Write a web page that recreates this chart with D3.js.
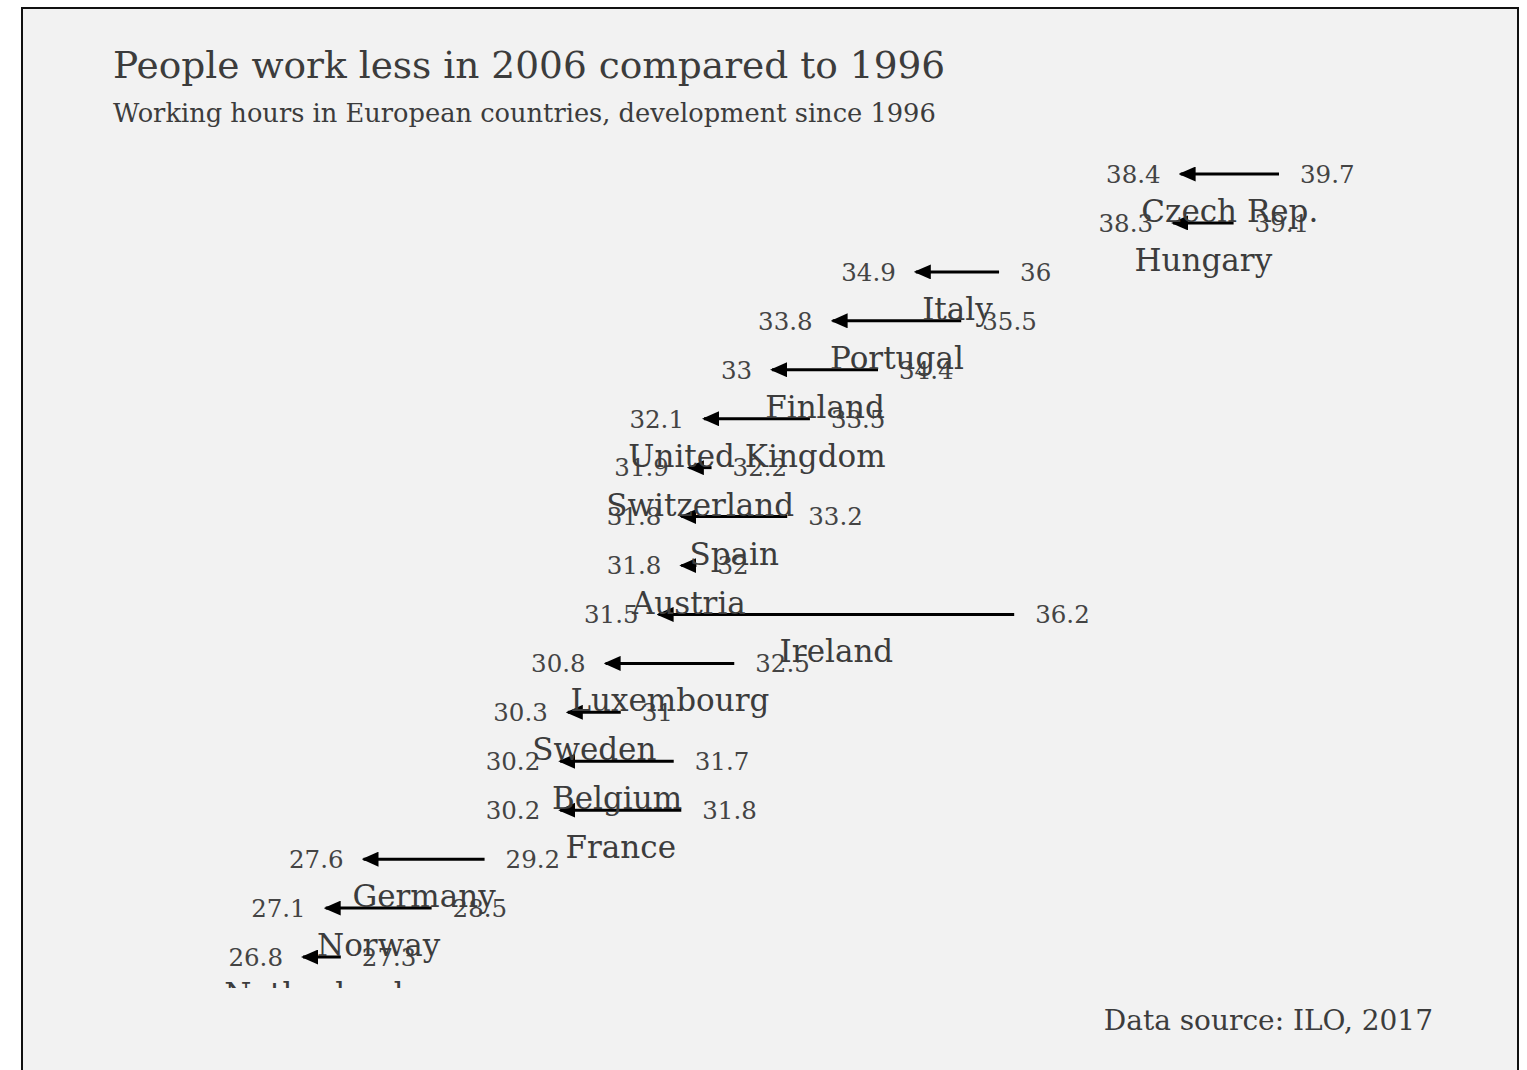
<!DOCTYPE html>
<html>
<head>
<meta charset="utf-8">
<script src="https://cdn.jsdelivr.net/npm/d3@7"></script>
<style>
  body { margin: 0; background: #fff; }
  svg text { font-family: 'DejaVu Serif', serif; }
</style>
</head>
<body>
<div id="chart"></div>
<script>
// working hours per week, 2006 vs 1996
var countries = ['Czech Rep.', 'Hungary', 'Italy', 'Portugal', 'Finland',
  'United Kingdom', 'Switzerland', 'Spain', 'Austria', 'Ireland',
  'Luxembourg', 'Sweden', 'Belgium', 'France', 'Germany', 'Norway',
  'Netherlands'];
var hours1996 = [39.7, 39.1, 36, 35.5, 34.4, 33.5, 32.2, 33.2, 32, 36.2,
  32.5, 31, 31.7, 31.8, 29.2, 28.5, 27.3];
var hours2006 = [38.4, 38.3, 34.9, 33.8, 33, 32.1, 31.9, 31.8, 31.8, 31.5,
  30.8, 30.3, 30.2, 30.2, 27.6, 27.1, 26.8];

var titleText = 'People work less in 2006 compared to 1996';
var subtitleText = 'Working hours in European countries, development since 1996';
var captionText = 'Data source: ILO, 2017';

var W = 1527, H = 1070;
var textColor = '#3c3c3c';

var dataset = [];
for (let i = 0; i < countries.length; ++i) {
  dataset.push({country: countries[i], from: hours1996[i], to: hours2006[i]});
}

var svg = d3.select('#chart').append('svg')
    .attr('width', W)
    .attr('height', H);

// panel
svg.append('rect')
    .attr('x', 22).attr('y', 8)
    .attr('width', 1496).attr('height', 1080)
    .attr('fill', '#f2f2f2')
    .attr('stroke', '#111')
    .attr('stroke-width', 2);

svg.append('defs').append('clipPath')
    .attr('id', 'plot-clip')
  .append('rect')
    .attr('x', 22).attr('y', 140)
    .attr('width', 1496).attr('height', 848);

svg.select('defs').append('marker')
    .attr('id', 'arrow')
    .attr('markerUnits', 'userSpaceOnUse')
    .attr('viewBox', '0 0 17 15')
    .attr('refX', 15).attr('refY', 7.5)
    .attr('markerWidth', 17).attr('markerHeight', 15)
    .attr('orient', 'auto')
  .append('path')
    .attr('d', 'M0,0 L17,7.5 L0,15 Z')
    .attr('fill', '#000');

var xScale = d3.scaleLinear()
    .domain([26.8, 39.7])
    .range([303, 1279]);

var yScale = d3.scalePoint()
    .domain(countries)
    .range([174, 174 + 16 * 48.94]);

var plot = svg.append('g').attr('clip-path', 'url(#plot-clip)');

plot.selectAll('line.seg')
    .data(dataset)
  .enter().append('line')
    .attr('class', 'seg')
    .attr('x1', d => xScale(d.from))
    .attr('x2', d => xScale(d.to))
    .attr('y1', d => yScale(d.country))
    .attr('y2', d => yScale(d.country))
    .attr('stroke', '#000')
    .attr('stroke-width', 3)
    .attr('marker-end', 'url(#arrow)');

plot.selectAll('text.v2006')
    .data(dataset)
  .enter().append('text')
    .attr('class', 'v2006')
    .attr('x', d => xScale(d.to) - 20)
    .attr('y', d => yScale(d.country))
    .attr('dy', '0.36em')
    .attr('text-anchor', 'end')
    .attr('fill', '#444')
    .style('font-size', '24.5px')
    .text(d => d.to);

plot.selectAll('text.v1996')
    .data(dataset)
  .enter().append('text')
    .attr('class', 'v1996')
    .attr('x', d => xScale(d.from) + 21)
    .attr('y', d => yScale(d.country))
    .attr('dy', '0.36em')
    .attr('text-anchor', 'start')
    .attr('fill', '#444')
    .style('font-size', '24.5px')
    .text(d => d.from);

plot.selectAll('text.country')
    .data(dataset)
  .enter().append('text')
    .attr('class', 'country')
    .attr('x', d => xScale((d.from + d.to) / 2))
    .attr('y', d => yScale(d.country) + 48)
    .attr('text-anchor', 'middle')
    .attr('fill', textColor)
    .style('font-size', '31px')
    .text(d => d.country);

svg.append('text')
    .attr('x', 113).attr('y', 78)
    .attr('fill', textColor)
    .style('font-size', '37.5px')
    .text(titleText);

svg.append('text')
    .attr('x', 113).attr('y', 122)
    .attr('fill', textColor)
    .style('font-size', '25.7px')
    .text(subtitleText);

svg.append('text')
    .attr('x', 1433).attr('y', 1030)
    .attr('text-anchor', 'end')
    .attr('fill', textColor)
    .style('font-size', '28px')
    .text(captionText);
</script>
</body>
</html>
